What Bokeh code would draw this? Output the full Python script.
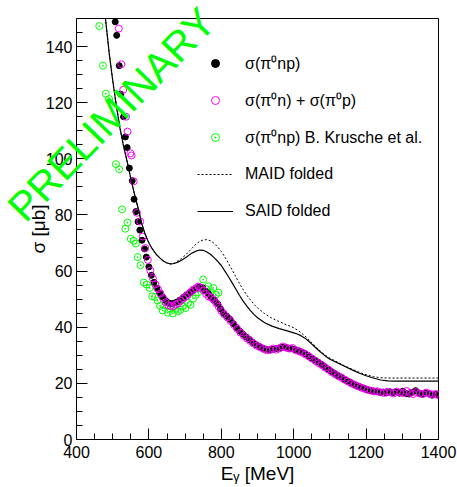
from bokeh.plotting import figure
from bokeh.models import Range1d, FixedTicker, Legend, LegendItem, GridBox, Div
from bokeh.embed import file_html
from bokeh.resources import INLINE

# ---------------- data ----------------
# sigma(pi0 np)  (black filled)
e_np = [507, 511, 518, 522, 530, 535, 540, 546, 554, 559, 564, 570, 575, 581, 588,
        593, 600, 607, 614, 622, 630, 638, 646, 654, 662, 670, 678, 686, 695, 704,
        713, 722, 731, 740, 748, 756, 764, 772, 781, 790, 798, 806, 815, 824, 833,
        842, 851, 860, 869, 878, 887, 896, 905, 914, 923, 932, 941, 950, 959, 968,
        977, 986, 995, 1004, 1013, 1022, 1031, 1040, 1049, 1058, 1067, 1076, 1085,
        1094, 1103, 1112, 1121, 1130, 1139, 1148, 1157, 1166, 1175, 1184, 1193, 1202,
        1211, 1220, 1229, 1238, 1247, 1256, 1265, 1274, 1283, 1292, 1301, 1310, 1319,
        1328, 1337, 1346, 1355, 1364, 1373, 1382, 1391, 1398]
s_np = [148.8, 144.0, 133.2, 123.0, 115.0, 107.8, 104.0, 96.7, 92.2, 85.6, 81.2, 77.6,
        74.6, 71.0, 67.9, 65.0, 61.5, 58.5, 56.0, 54.0, 52.2, 50.8, 49.5, 48.7, 48.4,
        48.6, 49.0, 49.7, 50.6, 51.5, 52.3, 53.1, 53.9, 54.4, 54.1, 52.9, 52.0, 50.8,
        49.6, 48.3, 46.5, 45.0, 43.9, 42.8, 41.3, 39.9, 38.6, 37.5, 36.5, 35.6, 34.6,
        33.8, 33.1, 32.5, 32.2, 31.9, 32.1, 32.3, 32.6, 32.8, 32.9, 32.5, 32.3, 32.0,
        31.6, 31.2, 30.6, 29.9, 29.0, 28.3, 27.6, 26.8, 26.0, 25.1, 24.3, 23.6, 22.8,
        22.3, 21.5, 20.8, 20.3, 19.6, 19.1, 18.7, 18.3, 17.8, 17.5, 17.3, 17.0, 16.8,
        16.9, 16.6, 17.0, 16.7, 16.9, 16.5, 17.2, 16.4, 16.2, 16.8, 17.4, 16.5, 16.1,
        16.6, 16.3, 15.8, 16.2, 15.9]

# sigma(pi0 n) + sigma(pi0 p)  (magenta open)
e_sum = [517, 524, 529, 537, 541, 549, 552, 558, 567, 576, 583, 590, 597, 604, 611,
         618, 625, 632, 639, 646, 653, 660, 667, 674, 681, 688, 695, 702, 709, 716,
         723, 730, 737, 744, 751, 758, 765, 772, 779, 786, 793, 800, 808, 817, 826,
         835, 844, 853, 862, 871, 880, 889, 898, 907, 916, 925, 934, 943, 952, 961,
         970, 979, 988, 997, 1006, 1015, 1024, 1033, 1042, 1051, 1060, 1069, 1078,
         1087, 1096, 1105, 1114, 1123, 1132, 1141, 1150, 1159, 1168, 1177, 1186, 1195,
         1204, 1213, 1222, 1231, 1240, 1249, 1258, 1267, 1276, 1285, 1294, 1303, 1312,
         1321, 1330, 1339, 1348, 1357, 1366, 1375, 1384, 1393, 1399]
s_sum = [146.4, 133.7, 124.6, 115.0, 109.7, 102.0, 101.2, 92.0, 80.8, 77.7, 72.3, 68.2,
         64.0, 60.2, 57.4, 55.3, 53.6, 52.0, 50.4, 48.9, 47.9, 47.6, 47.5, 48.1, 48.5,
         49.4, 50.3, 50.9, 51.8, 52.6, 53.4, 53.9, 54.5, 54.0, 53.1, 51.9, 51.0, 50.5,
         49.8, 48.6, 47.3, 45.8, 44.6, 43.5, 42.2, 40.8, 39.4, 38.1, 37.0, 36.0, 35.1,
         34.2, 33.4, 32.9, 32.3, 31.8, 31.9, 32.4, 32.0, 32.5, 33.1, 32.7, 32.4, 32.6,
         31.8, 31.4, 30.9, 30.3, 29.6, 28.8, 28.0, 27.2, 26.5, 25.6, 24.9, 24.0, 23.3,
         22.6, 22.0, 21.3, 20.7, 20.0, 19.5, 19.0, 18.5, 18.1, 17.7, 17.4, 17.1, 17.2,
         16.8, 16.6, 17.0, 16.8, 16.4, 17.1, 16.7, 16.5, 17.3, 16.6, 16.2, 16.9, 16.4,
         16.2, 16.7, 16.3, 16.0, 16.2, 15.8]

# sigma(pi0 np) B. Krusche et al. (green open)
e_kr = [463, 473, 481, 490, 509, 518, 526, 535, 541, 550, 558, 564, 569, 577, 586,
        594, 602, 609, 617, 624, 631, 638, 645, 652, 659, 666, 673, 680, 687, 694,
        701, 708, 715, 722, 729, 736, 743, 750, 757, 764, 771, 778, 785, 792]
s_kr = [147.3, 133.2, 123.2, 121.3, 98.1, 96.3, 82.0, 75.1, 77.3, 71.5, 70.8, 69.8,
        65.0, 62.1, 55.9, 55.2, 54.0, 51.0, 50.8, 49.5, 47.6, 46.0, 47.8, 45.2, 46.6,
        44.9, 46.5, 45.6, 46.2, 47.5, 46.8, 48.6, 48.0, 50.2, 51.5, 52.4, 53.8, 57.0,
        53.6, 54.6, 52.5, 54.0, 51.6, 52.3]

# model curves
e_curve = [470, 480, 490, 500, 510, 520, 530, 540, 550, 560, 570, 580, 590, 600, 610,
           620, 630, 640, 650, 660, 670, 680, 690, 700, 710, 720, 730, 740, 750, 760,
           770, 780, 790, 800, 810, 820, 830, 840, 850, 860, 870, 880, 890, 900, 920,
           940, 960, 980, 1000, 1010, 1020, 1030, 1040, 1050, 1060, 1070, 1080, 1090,
           1100, 1120, 1140, 1160, 1180, 1200, 1220, 1240, 1260, 1280, 1300, 1350, 1400]
s_maid = [163.0, 150.0, 138.0, 128.0, 119.0, 111.0, 104.5, 99.0, 93.0, 87.5, 82.5,
          77.0, 73.0, 70.0, 67.8, 66.0, 64.7, 63.6, 62.9, 62.5, 62.8, 63.6, 64.5, 65.6,
          66.9, 68.3, 69.6, 70.6, 71.1, 71.2, 70.8, 69.9, 68.6, 67.0, 65.0, 62.8, 60.4,
          58.0, 55.6, 53.5, 51.5, 49.8, 48.2, 46.9, 44.8, 43.2, 42.0, 40.9, 39.8, 39.0,
          38.1, 37.0, 35.8, 34.5, 33.2, 31.9, 30.8, 29.8, 29.0, 27.6, 26.3, 25.1, 24.0,
          23.1, 22.4, 22.0, 21.9, 21.9, 21.9, 21.9, 21.9]
s_said = [163.0, 150.0, 138.0, 128.0, 119.0, 111.0, 104.5, 99.0, 93.0, 87.5, 82.5,
          77.0, 73.0, 70.0, 67.8, 66.0, 64.7, 63.6, 62.9, 62.6, 62.7, 63.2, 63.9, 64.7,
          65.6, 66.5, 67.1, 67.5, 67.4, 66.8, 66.0, 64.8, 63.5, 62.0, 60.0, 58.0, 55.8,
          53.6, 51.4, 49.4, 47.6, 46.0, 44.6, 43.4, 41.6, 40.4, 39.5, 38.8, 38.0, 37.6,
          37.0, 36.2, 35.2, 34.0, 32.8, 31.6, 30.5, 29.5, 28.6, 27.4, 26.1, 24.9, 23.7,
          22.7, 21.9, 21.2, 20.9, 20.8, 20.8, 20.8, 20.8]

x_ticks = [400, 600, 800, 1000, 1200, 1400]
y_ticks = [0, 20, 40, 60, 80, 100, 120, 140]
x_minor = list(range(400, 1401, 50))
y_minor = list(range(0, 151, 5))

wm_text = "PRELIMINARY"
wm_e = 499   # watermark centre, data units
wm_s = 115

FONT = "Liberation Sans"
W, H = 457, 487
BL, BR, BT, BB = 76, 19, 18, 48
X0, X1, Y0, Y1 = 400, 1400, 0, 150

p = figure(width=W, height=H, output_backend="svg", toolbar_location=None,
           x_range=Range1d(X0, X1), y_range=Range1d(Y0, Y1),
           min_border_left=BL, min_border_right=BR, min_border_top=BT,
           min_border_bottom=BB)
p.background_fill_color = "white"
p.border_fill_color = "white"
p.outline_line_color = "black"
p.outline_line_width = 1
p.xgrid.visible = False
p.ygrid.visible = False

for ax, ticks, minor in ((p.xaxis[0], x_ticks, x_minor), (p.yaxis[0], y_ticks, y_minor)):
    ax.ticker = FixedTicker(ticks=ticks, minor_ticks=minor)
    ax.major_tick_in = 11
    ax.major_tick_out = 0
    ax.minor_tick_in = 6
    ax.minor_tick_out = 0
    ax.axis_line_color = "black"
    ax.major_tick_line_color = "black"
    ax.minor_tick_line_color = "black"
    ax.major_label_text_font = FONT
    ax.major_label_text_font_size = "16px"
    ax.major_label_text_color = "black"
    ax.axis_label_text_font = FONT
    ax.axis_label_text_font_size = "19px"
    ax.axis_label_text_font_style = "normal"
    ax.axis_label_text_color = "black"

p.xaxis.axis_label = "E\u1d67 [MeV]"
p.yaxis.axis_label = "\u03c3 [\u03bcb]"
p.xaxis.major_label_standoff = 6
p.yaxis.major_label_standoff = 4
p.xaxis.axis_label_standoff = 2
p.yaxis.axis_label_standoff = -6

r_kr = p.scatter(e_kr, s_kr, marker="circle_dot", size=7, fill_color=None,
                 line_color="#00ff00", line_width=1)
r_np = p.scatter(e_np, s_np, marker="circle", size=6, fill_color="black",
                 line_color="black")
r_sum = p.scatter(e_sum, s_sum, marker="circle", size=7, fill_color=None,
                  line_color="#ff00ff", line_width=1)
r_maid = p.line(e_curve, s_maid, line_color="black", line_width=1, line_dash="2 2")
r_said = p.line(e_curve, s_said, line_color="black", line_width=1.2)

legend = Legend(items=[
    LegendItem(label="\u03c3(\u03c0\u2070np)", renderers=[r_np]),
    LegendItem(label="\u03c3(\u03c0\u2070n) + \u03c3(\u03c0\u2070p)", renderers=[r_sum]),
    LegendItem(label="\u03c3(\u03c0\u2070np) B. Krusche et al.", renderers=[r_kr]),
    LegendItem(label="MAID folded", renderers=[r_maid]),
    LegendItem(label="SAID folded", renderers=[r_said]),
], location=(121, 216))
legend.border_line_color = None
legend.background_fill_alpha = 0
legend.padding = 0
legend.margin = 0
legend.glyph_width = 36
legend.glyph_height = 20
legend.label_height = 24
legend.spacing = 13
legend.label_standoff = 12
legend.label_text_font = FONT
legend.label_text_font_size = "16px"
legend.label_text_color = "black"
p.add_layout(legend)

# watermark: transparent HTML layer over the figure (so it may extend past the
# frame), centred at the screen position of (wm_e, wm_s) on the figure's scale
kx = (X1 - X0) / (W - BL - BR)
ky = (Y1 - Y0) / (H - BT - BB)
cx = BL + (wm_e - X0) / kx - 5
cy = BT + (Y1 - wm_s) / ky - 18
wm_html = (
    f'<div style="position:relative;left:{cx:.1f}px;top:{cy:.1f}px;width:0;height:0;">'
    f'<span style="position:absolute;left:0;top:0;white-space:nowrap;'
    f'font-family:\'{FONT}\';font-size:41px;line-height:1;color:#00ff00;'
    f'transform:translate(-50%,-50%) rotate(-46deg);">{wm_text}</span></div>'
)
wm = Div(text=wm_html, width=W, height=H,
         styles={"pointer-events": "none", "overflow": "visible"})

layout = GridBox(children=[(p, 0, 0), (wm, 0, 0)])

open("out.html", "w").write(file_html(layout, INLINE))
